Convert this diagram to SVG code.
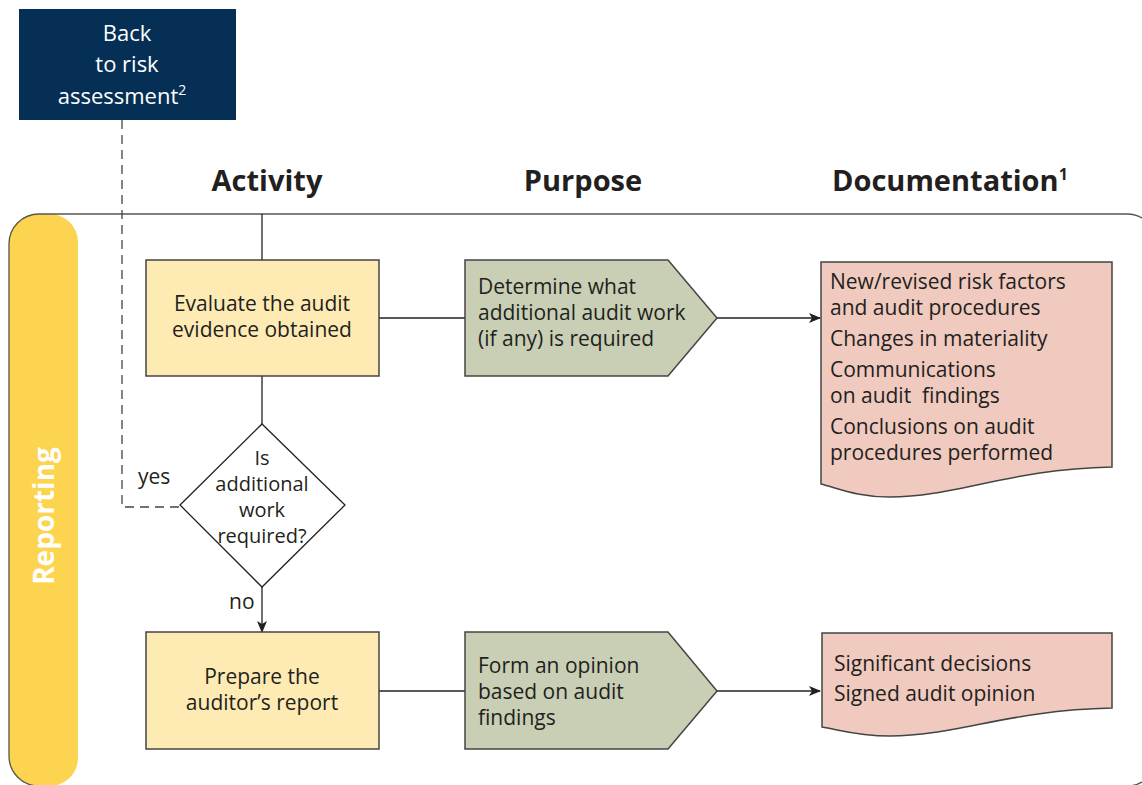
<svg xmlns="http://www.w3.org/2000/svg" width="1142" height="785" viewBox="0 0 1142 785">
<style>
text{font-family:"Open Sans","Noto Sans",sans-serif;fill:#231f20;font-size:21px}
.hdr{font-size:29px;font-weight:bold}
.c{text-anchor:middle}
.w{fill:#fff;font-size:22px}
.dm{font-size:20px}
.act{fill:#feebb4;stroke:#444;stroke-width:1.5}
.pur{fill:#c8cfb4;stroke:#444;stroke-width:1.5}
.doc{fill:#f0cabf;stroke:#444;stroke-width:1.5}
.ln{stroke:#231f20;stroke-width:1.3;fill:none}
.dash{stroke:#444;stroke-width:1.3;fill:none;stroke-dasharray:9,6}
</style>
<defs>
<marker id="ah" markerWidth="12" markerHeight="10" refX="11" refY="5" orient="auto" markerUnits="userSpaceOnUse">
<path d="M0,0 L12,5 L0,10 L3,5 Z" fill="#231f20"/>
</marker>
</defs>
<rect width="1142" height="785" fill="#fff"/>
<g id="lane">
<rect x="9" y="214" width="69" height="572" rx="28" fill="#fdd44f"/>
<rect x="9" y="214" width="1148" height="572" rx="30" fill="none" stroke="#555" stroke-width="1.3"/>
<text transform="translate(54,516) rotate(-90)" class="c" style="font-size:28px;font-weight:bold;fill:#fff">Reporting</text>
</g>
<g id="headers">
<text x="267" y="191" class="hdr c">Activity</text>
<text x="583" y="191" class="hdr c">Purpose</text>
<text x="832" y="191" class="hdr">Documentation<tspan dy="-11" style="font-size:16px">1</tspan></text>
</g>
<g id="connectors">
<path class="dash" d="M122,120 V507 H180"/>
<path class="ln" d="M262,214 V260"/>
<path class="ln" d="M379,318 H465"/>
<path class="ln" d="M717,318 H820" marker-end="url(#ah)"/>
<path class="ln" d="M262,376 V424"/>
<path class="ln" d="M262,587 V632" marker-end="url(#ah)"/>
<path class="ln" d="M379,691 H465"/>
<path class="ln" d="M717,691 H820" marker-end="url(#ah)"/>
<text x="138" y="484">yes</text>
<text x="229" y="609">no</text>
</g>
<g id="back">
<rect x="19" y="9" width="217" height="111" fill="#062f55"/>
<text x="127" y="41" class="c w">Back</text>
<text x="127" y="72" class="c w">to risk</text>
<text x="122" y="104" class="c w">assessment<tspan dy="-9" style="font-size:14px;fill:#fff">2</tspan></text>
</g>
<g id="evaluate">
<rect class="act" x="146" y="260" width="233" height="116"/>
<text x="262" y="311" class="c">Evaluate the audit</text>
<text x="262" y="337" class="c">evidence obtained</text>
</g>
<g id="purpose1">
<path class="pur" d="M465,260 H668 L717,318 L668,376 H465 Z"/>
<text x="478" y="294">Determine what</text>
<text x="478" y="320">additional audit work</text>
<text x="478" y="346">(if any) is required</text>
</g>
<g id="doc1">
<path class="doc" d="M821,262 H1112 V467 C1010,469 955,497 890,497 C858,497 840,489 821,484 Z"/>
<text x="830" y="289">New/revised risk factors</text>
<text x="830" y="315">and audit procedures</text>
<text x="830" y="346">Changes in materiality</text>
<text x="830" y="377">Communications</text>
<text x="830" y="403" xml:space="preserve">on audit  findings</text>
<text x="830" y="434">Conclusions on audit</text>
<text x="830" y="460">procedures performed</text>
</g>
<g id="decision">
<path d="M262,424 L345,505 L262,587 L180,505 Z" fill="#fff" stroke="#231f20" stroke-width="1.3"/>
<text x="262" y="465" class="c dm">Is</text>
<text x="262" y="491" class="c dm">additional</text>
<text x="262" y="517" class="c dm">work</text>
<text x="262" y="543" class="c dm">required?</text>
</g>
<g id="prepare">
<rect class="act" x="146" y="632" width="233" height="117"/>
<text x="262" y="684" class="c">Prepare the</text>
<text x="262" y="710" class="c">auditor’s report</text>
</g>
<g id="purpose2">
<path class="pur" d="M465,632 H668 L717,691 L668,749 H465 Z"/>
<text x="478" y="673">Form an opinion</text>
<text x="478" y="699">based on audit</text>
<text x="478" y="725">findings</text>
</g>
<g id="doc2">
<path class="doc" d="M822,633 H1112 V708 C1010,710 955,736 890,736 C858,736 840,730 822,727 Z"/>
<text x="834" y="671">Significant decisions</text>
<text x="834" y="701">Signed audit opinion</text>
</g>
</svg>
